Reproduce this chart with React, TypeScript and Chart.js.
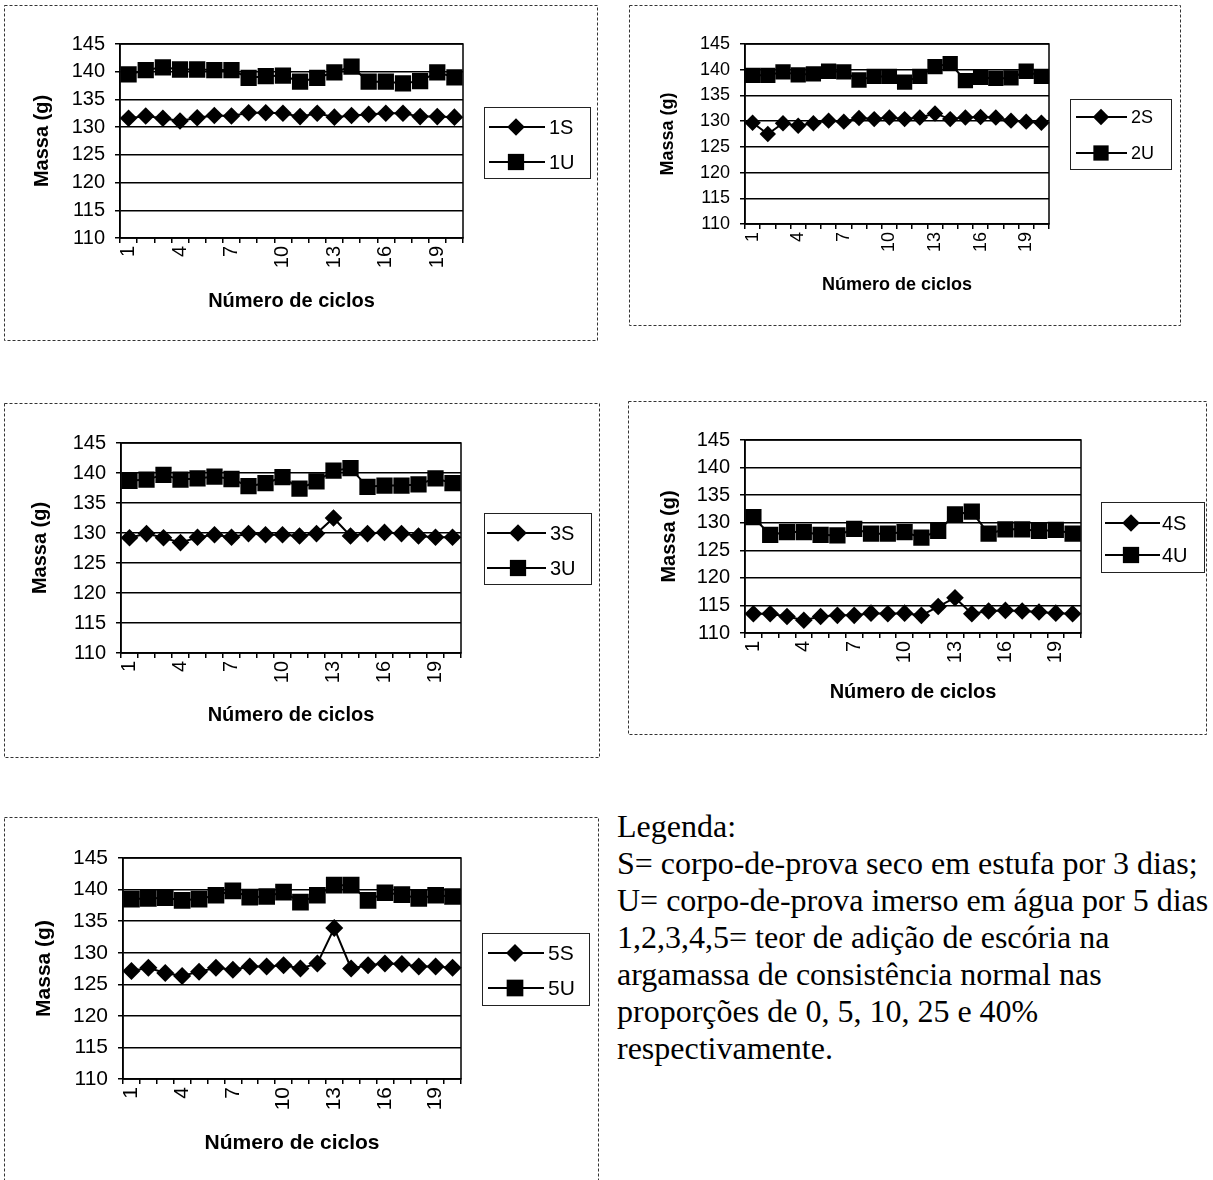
import React, { useEffect, useRef } from 'react';
import { Chart, registerables } from 'chart.js';

Chart.register(...registerables);

// ---------------- data ----------------
const cycleLabels: string[] = ['1', '2', '3', '4', '5', '6', '7', '8', '9', '10', '11', '12', '13', '14', '15', '16', '17', '18', '19', '20'];
const shownCycleTicks: string[] = ['1', '4', '7', '10', '13', '16', '19'];
const yMin = 110;
const yMax = 145;
const yStep = 5;
const yAxisTitle = 'Massa (g)';
const xAxisTitle = 'Número de ciclos';

const series1S: number[] = [131.6, 132.0, 131.6, 131.1, 131.7, 132.1, 132.0, 132.6, 132.6, 132.5, 131.9, 132.5, 131.8, 132.1, 132.3, 132.5, 132.5, 131.9, 131.9, 131.8];
const series1U: number[] = [139.5, 140.3, 140.8, 140.4, 140.4, 140.3, 140.3, 138.9, 139.2, 139.3, 138.2, 138.9, 139.9, 140.9, 138.2, 138.2, 137.9, 138.3, 139.9, 139.0];

const series2S: number[] = [129.7, 127.5, 129.6, 129.1, 129.6, 130.1, 129.9, 130.6, 130.4, 130.7, 130.4, 130.7, 131.5, 130.4, 130.7, 130.8, 130.7, 130.1, 129.9, 129.7];
const series2U: number[] = [138.9, 138.9, 139.6, 139.0, 139.2, 139.7, 139.6, 138.0, 138.7, 138.7, 137.6, 138.7, 140.6, 141.2, 137.9, 138.5, 138.3, 138.4, 139.7, 138.7];

const series3S: number[] = [129.2, 129.9, 129.2, 128.4, 129.3, 129.7, 129.3, 129.9, 129.7, 129.7, 129.5, 129.9, 132.5, 129.5, 129.9, 130.1, 129.9, 129.5, 129.3, 129.3];
const series3U: number[] = [138.7, 138.9, 139.7, 138.9, 139.1, 139.4, 139.0, 137.8, 138.3, 139.3, 137.4, 138.6, 140.4, 140.8, 137.7, 137.9, 137.9, 138.1, 139.1, 138.3];

const series4S: number[] = [113.5, 113.5, 113.0, 112.3, 113.0, 113.2, 113.2, 113.6, 113.5, 113.6, 113.2, 114.8, 116.4, 113.5, 114.0, 114.1, 114.0, 113.8, 113.6, 113.5];
const series4U: number[] = [131.0, 127.8, 128.3, 128.3, 127.8, 127.7, 128.9, 128.0, 128.0, 128.3, 127.3, 128.5, 131.5, 132.0, 128.0, 128.8, 128.8, 128.5, 128.7, 128.0];

const series5S: number[] = [127.1, 127.6, 126.8, 126.3, 127.0, 127.6, 127.3, 127.8, 127.8, 128.0, 127.5, 128.3, 133.9, 127.5, 128.0, 128.3, 128.2, 127.8, 127.8, 127.6];
const series5U: number[] = [138.5, 138.6, 138.7, 138.3, 138.5, 139.1, 139.8, 138.8, 138.9, 139.6, 138.0, 139.1, 140.7, 140.7, 138.3, 139.5, 139.2, 138.6, 139.1, 138.9];

const legendNotes: string[] = [
  'Legenda:',
  'S= corpo-de-prova seco em estufa por 3 dias;',
  'U= corpo-de-prova imerso em água por 5 dias',
  '1,2,3,4,5= teor de adição de escória na',
  'argamassa de consistência normal nas',
  'proporções de 0, 5, 10, 25 e 40%',
  'respectivamente.',
];

// ---------------- layout (page pixels) ----------------
type Geo = {
  box: [number, number, number, number];
  plot: [number, number, number, number];
  yTitleX: number;
  xTitleY: number;
  legendBox: [number, number, number, number];
  legendY: [number, number];
  legendLine: [number, number];
  legendMarkerX: number;
  legendTextX: number;
  font: number;
  sR: number;
  uR: number;
};

const PAGE_H = 1180;
const FONT = '"Liberation Sans", Arial, sans-serif';

const geo1: Geo = { box: [4, 5, 597, 340], plot: [120, 44, 462, 238], yTitleX: 42, xTitleY: 301, legendBox: [484, 107, 590, 178], legendY: [127, 162], legendLine: [489, 545], legendMarkerX: 516, legendTextX: 549, font: 20, sR: 8.8, uR: 11.5 };
const geo2: Geo = { box: [629, 5, 1180, 325], plot: [745, 44, 1048, 224], yTitleX: 668, xTitleY: 285, legendBox: [1070, 99, 1171, 169], legendY: [117, 153], legendLine: [1076, 1127], legendMarkerX: 1101, legendTextX: 1131, font: 18, sR: 8.2, uR: 10.8 };
const geo3: Geo = { box: [4, 403, 599, 757], plot: [121, 443, 460, 653], yTitleX: 40, xTitleY: 715, legendBox: [484, 513, 591, 584], legendY: [533, 568], legendLine: [487, 546], legendMarkerX: 518, legendTextX: 550, font: 20, sR: 8.8, uR: 11.5 };
const geo4: Geo = { box: [628, 401, 1206, 734], plot: [745, 440, 1080, 633], yTitleX: 669, xTitleY: 692, legendBox: [1101, 502, 1204, 572], legendY: [523, 555], legendLine: [1105, 1160], legendMarkerX: 1131, legendTextX: 1162, font: 20, sR: 8.8, uR: 11.5 };
const geo5: Geo = { box: [4, 817, 598, 1190], plot: [123, 858, 460, 1079], yTitleX: 44, xTitleY: 1143, legendBox: [482, 933, 589, 1005], legendY: [953, 988], legendLine: [488, 544], legendMarkerX: 515, legendTextX: 548, font: 21, sR: 9, uR: 11.8 };

type Props = { geo: Geo; names: [string, string]; s: number[]; u: number[] };

function drawMarker(ctx: CanvasRenderingContext2D, style: 'diamond' | 'square', x: number, y: number, r: number) {
  ctx.beginPath();
  if (style === 'diamond') {
    ctx.moveTo(x - r, y);
    ctx.lineTo(x, y - r);
    ctx.lineTo(x + r, y);
    ctx.lineTo(x, y + r);
    ctx.closePath();
  } else {
    const h = r * Math.SQRT1_2;
    ctx.rect(x - h, y - h, 2 * h, 2 * h);
  }
  ctx.fillStyle = '#000';
  ctx.fill();
}

function MiniChart({ geo, names, s, u }: Props) {
  const ref = useRef<HTMLCanvasElement | null>(null);
  const [bl, bt, br, bb] = geo.box;
  const cw = br - bl + 1;
  const ch = Math.min(bb, PAGE_H) - bt + 1;

  useEffect(() => {
    const canvas = ref.current;
    if (!canvas) return;
    const [pl, pt, pr, pb] = geo.plot;
    const lh = geo.font * 1.2;
    const padLeft = geo.yTitleX - lh / 2 - bl;
    const yAxisW = pl - (geo.yTitleX - lh / 2);
    const padTop = pt - bt;
    const padRight = br - pr;
    const xAxisH = geo.xTitleY + lh / 2 - pb;
    const padBottom = ch - (geo.xTitleY + lh / 2 - bt);

    const framePlugin = {
      id: 'frame' + names[0],
      beforeDraw(chart: any) {
        const ctx = chart.ctx as CanvasRenderingContext2D;
        ctx.save();
        ctx.fillStyle = '#fff';
        ctx.fillRect(0, 0, chart.width, chart.height);
        ctx.strokeStyle = '#333';
        ctx.lineWidth = 1;
        ctx.setLineDash([3, 2]);
        ctx.strokeRect(0.5, 0.5, cw - 1, bb - bt);
        ctx.restore();
      },
      afterDraw(chart: any) {
        const ctx = chart.ctx as CanvasRenderingContext2D;
        const a = chart.chartArea;
        ctx.save();
        ctx.strokeStyle = '#000';
        ctx.lineWidth = 1.5;
        ctx.strokeRect(a.left, a.top, a.right - a.left, a.bottom - a.top);
        // legend
        const [ll, lt, lr, lb] = geo.legendBox;
        ctx.lineWidth = 1;
        ctx.strokeStyle = '#222';
        ctx.strokeRect(ll - bl + 0.5, lt - bt + 0.5, lr - ll, lb - lt);
        const styles: ('diamond' | 'square')[] = ['diamond', 'square'];
        const radii = [geo.sR, geo.uR];
        for (let i = 0; i < 2; i++) {
          const y = geo.legendY[i] - bt;
          ctx.beginPath();
          ctx.moveTo(geo.legendLine[0] - bl, y);
          ctx.lineTo(geo.legendLine[1] - bl, y);
          ctx.lineWidth = 2;
          ctx.strokeStyle = '#000';
          ctx.stroke();
          drawMarker(ctx, styles[i], geo.legendMarkerX - bl, y, radii[i]);
          ctx.fillStyle = '#000';
          ctx.font = `${geo.font}px ${FONT}`;
          ctx.textBaseline = 'middle';
          ctx.textAlign = 'left';
          ctx.fillText(chart.data.datasets[i].label, geo.legendTextX - bl, y + 1);
        }
        ctx.restore();
      },
    };

    const tickFont = { family: FONT, size: geo.font };
    const titleFont = { family: FONT, size: geo.font, weight: 'bold' as const };

    const chart = new Chart(canvas, {
      type: 'line',
      data: {
        labels: cycleLabels,
        datasets: [
          {
            label: names[0], data: s, borderColor: '#000', backgroundColor: '#000', borderWidth: 2,
            pointStyle: 'rectRot', pointRadius: geo.sR, pointBorderWidth: 0, pointBackgroundColor: '#000', pointBorderColor: '#000', tension: 0,
          },
          {
            label: names[1], data: u, borderColor: '#000', backgroundColor: '#000', borderWidth: 2,
            pointStyle: 'rect', pointRadius: geo.uR, pointBorderWidth: 0, pointBackgroundColor: '#000', pointBorderColor: '#000', tension: 0,
          },
        ],
      },
      options: {
        responsive: false,
        animation: false,
        events: [],
        layout: { padding: { left: padLeft, top: padTop, right: padRight, bottom: padBottom } },
        plugins: { legend: { display: false }, tooltip: { enabled: false }, title: { display: false } },
        scales: {
          x: {
            type: 'category',
            offset: true,
            grid: { display: true, drawOnChartArea: false, drawTicks: true, tickLength: 5, offset: true, color: '#000', lineWidth: 1.5 },
            border: { display: true, color: '#000', width: 1.5 },
            ticks: {
              autoSkip: false, minRotation: 90, maxRotation: 90, padding: 3, color: '#000', font: tickFont,
              callback: function (this: any, value: any) {
                const lab = this.getLabelForValue(value);
                return shownCycleTicks.includes(lab) ? lab : '';
              },
            },
            title: { display: true, text: xAxisTitle, color: '#000', font: titleFont, padding: 0 },
            afterFit: (sc: any) => { sc.height = xAxisH; },
          },
          y: {
            min: yMin, max: yMax,
            grid: { color: '#000', lineWidth: 1.5, drawTicks: true, tickLength: 5 },
            border: { display: true, color: '#000', width: 1.5 },
            ticks: { stepSize: yStep, padding: 10, color: '#000', font: tickFont },
            title: { display: true, text: yAxisTitle, color: '#000', font: titleFont, padding: 0 },
            afterFit: (sc: any) => { sc.width = yAxisW; },
          },
        },
      },
      plugins: [framePlugin],
    } as any);
    return () => chart.destroy();
  }, []);

  return (
    <canvas
      ref={ref}
      width={cw}
      height={ch}
      style={{ position: 'absolute', left: bl, top: bt, width: cw, height: ch, display: 'block' }}
    />
  );
}

export default function App() {
  return (
    <div style={{ position: 'absolute', left: 0, top: 0, width: 1213, height: PAGE_H, overflow: 'hidden', background: '#fff' }}>
      <MiniChart geo={geo1} names={['1S', '1U']} s={series1S} u={series1U} />
      <MiniChart geo={geo2} names={['2S', '2U']} s={series2S} u={series2U} />
      <MiniChart geo={geo3} names={['3S', '3U']} s={series3S} u={series3U} />
      <MiniChart geo={geo4} names={['4S', '4U']} s={series4S} u={series4U} />
      <MiniChart geo={geo5} names={['5S', '5U']} s={series5S} u={series5U} />
      <div
        style={{
          position: 'absolute', left: 617, top: 808, width: 596, overflow: 'hidden', whiteSpace: 'nowrap',
          fontFamily: '"Liberation Serif", "Times New Roman", serif', fontSize: 32, lineHeight: '37px', color: '#000',
        }}
      >
        {legendNotes.map((t, i) => (
          <div key={i}>{t}</div>
        ))}
      </div>
    </div>
  );
}
